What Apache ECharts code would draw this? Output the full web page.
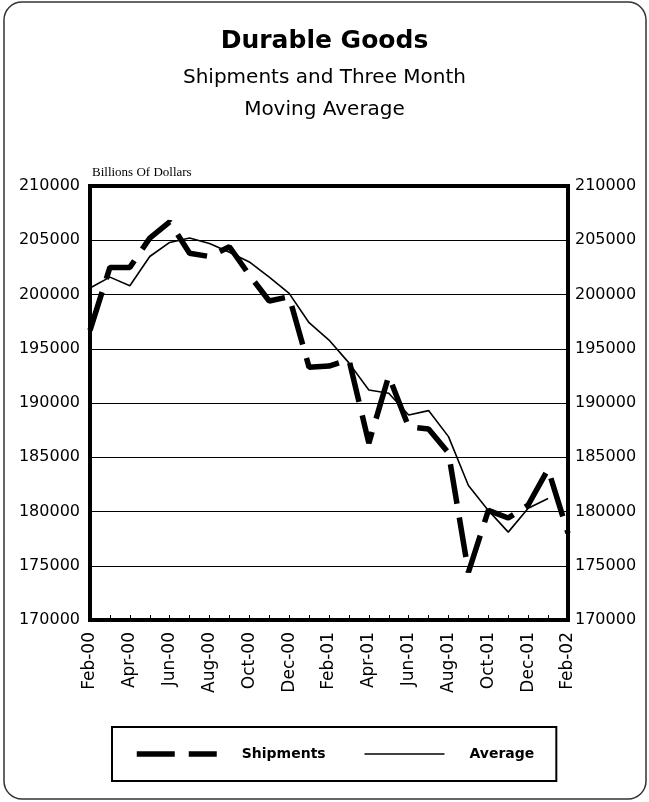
<!DOCTYPE html>
<html>
<head>
<meta charset="utf-8">
<script src="https://cdn.jsdelivr.net/npm/echarts@6/dist/echarts.min.js"></script>
<style>
  html, body { margin: 0; padding: 0; background: #fff; }
  #chart { width: 649px; height: 802px; }
</style>
</head>
<body>
<div id="chart"></div>
<script>
// monthly categories, Feb-00 .. Feb-02
const months = [
  "Feb-00", "Mar-00", "Apr-00", "May-00", "Jun-00", "Jul-00", "Aug-00", "Sep-00",
  "Oct-00", "Nov-00", "Dec-00", "Jan-01", "Feb-01", "Mar-01", "Apr-01", "May-01",
  "Jun-01", "Jul-01", "Aug-01", "Sep-01", "Oct-01", "Nov-01", "Dec-01", "Jan-02", "Feb-02"
];
const shipments = [
  196700, 202500, 202500, 205200, 206700, 203800, 203500, 204400,
  201800, 199400, 199800, 193300, 193400, 194000, 186300, 192500,
  187800, 187600, 185400, 174400, 180100, 179400, 180600, 183900, 178000
];
const average = [
  200600, 201600, 200800, 203500, 204800, 205200, 204700, 203900,
  203000, 201600, 200100, 197400, 195800, 193700, 191200, 190900,
  188900, 189300, 186900, 182400, 180100, 178100, 180300, 181200, null
];
const yMin = 170000, yMax = 210000, yStep = 5000;

const chart = echarts.init(document.getElementById("chart"));

const tickFont = { fontFamily: "DejaVu Sans", fontSize: 16, color: "#000" };
const plainNum = v => String(v);

chart.setOption({
  animation: false,
  backgroundColor: "#fff",
  title: [
    {
      text: "Durable Goods",
      left: "center", top: 24,
      textStyle: { fontFamily: "DejaVu Sans", fontWeight: "bold", fontSize: 25, color: "#000" }
    },
    {
      text: "Shipments and Three Month",
      left: "center", top: 63,
      textStyle: { fontFamily: "DejaVu Sans", fontWeight: "normal", fontSize: 20, color: "#000" }
    },
    {
      text: "Moving Average",
      left: "center", top: 95,
      textStyle: { fontFamily: "DejaVu Sans", fontWeight: "normal", fontSize: 20, color: "#000" }
    },
    {
      text: "Billions Of Dollars",
      left: 87, top: 161,
      textStyle: { fontFamily: "Liberation Serif", fontWeight: "normal", fontSize: 13, color: "#000" }
    }
  ],
  // outer rounded frame
  graphic: [
    {
      type: "rect",
      shape: { x: 4, y: 2, width: 642, height: 797, r: 18 },
      style: { fill: "none", stroke: "#333", lineWidth: 1.5 },
      silent: true
    }
  ],
  grid: {
    left: 90, right: 81, top: 186, bottom: 182,
    show: true, borderColor: "#000", borderWidth: 4,
    containLabel: false
  },
  legend: {
    data: [
      { name: "Shipments", lineStyle: { width: 5.5, type: [38, 14] } },
      { name: "Average", lineStyle: { width: 1.6 } }
    ],
    left: 112, top: 727,
    padding: [20, 22, 20, 22],
    borderColor: "#000", borderWidth: 2,
    itemWidth: 80, itemHeight: 14,
    itemGap: 38,
    itemStyle: { opacity: 0 },
    textStyle: { fontFamily: "DejaVu Sans", fontSize: 14, fontWeight: 600, color: "#000", padding: [0, 0, 0, 20] }
  },
  xAxis: {
    type: "category",
    data: months,
    boundaryGap: false,
    axisLine: { show: true, lineStyle: { color: "#000", width: 4 } },
    axisTick: { show: true, inside: true, length: 5, interval: 0, lineStyle: { color: "#000", width: 1 } },
    axisLabel: Object.assign({ interval: 1, rotate: 90, margin: 12 }, tickFont, { fontSize: 17 }),
    splitLine: { show: false }
  },
  yAxis: [
    {
      type: "value", min: yMin, max: yMax, interval: yStep,
      position: "left",
      axisLine: { show: false },
      axisTick: { show: false },
      axisLabel: Object.assign({ margin: 10, formatter: plainNum }, tickFont),
      splitLine: { show: true, lineStyle: { color: "#000", width: 1 } }
    },
    {
      type: "value", min: yMin, max: yMax, interval: yStep,
      position: "right",
      axisLine: { show: false },
      axisTick: { show: false },
      axisLabel: Object.assign({ margin: 7, formatter: plainNum }, tickFont),
      splitLine: { show: false }
    }
  ],
  series: [
    {
      name: "Shipments",
      type: "line",
      data: shipments,
      showSymbol: false,
      symbol: "none",
      itemStyle: { color: "#000" },
      lineStyle: { color: "#000", width: 5.5, type: [40, 14] }
    },
    {
      name: "Average",
      type: "line",
      data: average,
      showSymbol: false,
      symbol: "none",
      itemStyle: { color: "#000" },
      lineStyle: { color: "#000", width: 1.6 }
    }
  ]
});
</script>
</body>
</html>
